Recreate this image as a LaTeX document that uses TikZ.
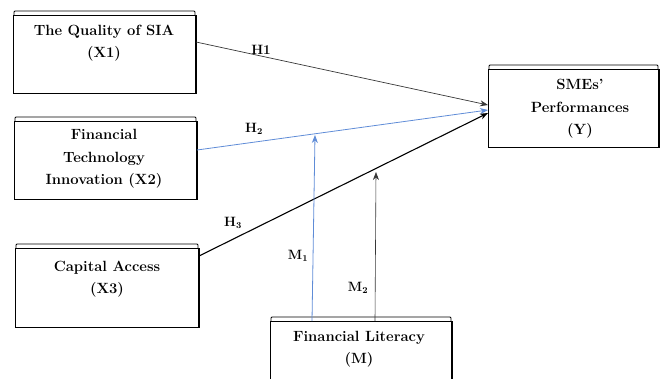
\documentclass[tikz,border=0pt]{standalone}
\usetikzlibrary{arrows.meta}
\definecolor{lblue}{RGB}{95,140,215}
\definecolor{dgrey}{RGB}{55,55,55}
\tikzset{
  boxshape/.style={draw, line width=0.9pt, fill=white, inner sep=0pt},
  boxtext/.style={align=center, font=\fontsize{14.8}{22.5}\selectfont\bfseries, inner sep=0pt},
  hlab/.style={font=\fontsize{13.5}{15}\selectfont\bfseries, inner sep=0pt},
  blk/.style={draw=dgrey, line width=0.7pt, -{Stealth[length=8pt,width=6pt]}},
  blkthick/.style={draw=black, line width=1.1pt, -{Stealth[length=8pt,width=6pt]}},
  blu/.style={draw=lblue, line width=0.8pt, -{Stealth[length=8pt,width=6pt]}},
}
\newcommand{\shadowbox}[5]{% name, x1, y1, x2, y2
  \draw[line width=0.8pt, rounded corners=1pt] (#2+1,#3) -- (#2+1,#3-4) -- (#4-1,#3-4) -- (#4-1,#3);
  \node[boxshape, minimum width=#4-#2, minimum height=#5-#3] (#1) at ({(#2+#4)/2},{(#3+#5)/2}) {};
  \draw[line width=1.4pt] (#4,#3) -- (#4,#5);
}
\begin{document}
\begin{tikzpicture}[x=1pt,y=-1pt]
\useasboundingbox (0,0) rectangle (661,378);
\clip (0,0) rectangle (661,378);
% boxes
\shadowbox{b1}{13}{15}{196}{93}
\node[boxtext] (t1) at (104,43) {The Quality of SIA\\(X1)};
\shadowbox{b2}{14}{121}{197}{199}
\node[boxtext] (t2) at (104,159) {Financial\\Technology\\Innovation (X2)};
\shadowbox{b3}{15}{248}{199}{327}
\node[boxtext] (t3) at (107,279) {Capital Access\\(X3)};
\shadowbox{by}{488}{69}{659}{147}
\node[boxtext] (ty) at (580,109) {SMEs'\\Performances\\(Y)};
\shadowbox{bm}{270}{321}{452}{400}
\node[boxtext] (tm) at (359,349) {Financial Literacy\\(M)};
% connector end points
\coordinate (h1s) at (196,42);
\coordinate (h1e) at (488,105);
\coordinate (h2s) at (197,150);
\coordinate (h2e) at (488,110);
\coordinate (h3s) at (199,256);
\coordinate (h3e) at (488,113);
\coordinate (m1s) at (312,321);
\coordinate (m1e) at (315,135);
\coordinate (m2s) at (375,321);
\coordinate (m2e) at (376,172);
\draw[blk] (h1s) -- (h1e);
\draw[blu] (h2s) -- (h2e);
\draw[blkthick] (h3s) -- (h3e);
\draw[blu] (m1s) -- (m1e);
\draw[blk, line width=0.6pt] (m2s) -- (m2e);
% labels
\node[hlab] (l1) at (261,50) {H1};
\node[hlab] (l2) at (254,129) {H$_\mathbf{2}$};
\node[hlab] (l3) at (233,223) {H$_\mathbf{3}$};
\node[hlab] (l4) at (298,256) {M$_\mathbf{1}$};
\node[hlab] (l5) at (358,288) {M$_\mathbf{2}$};
\end{tikzpicture}
\end{document}
